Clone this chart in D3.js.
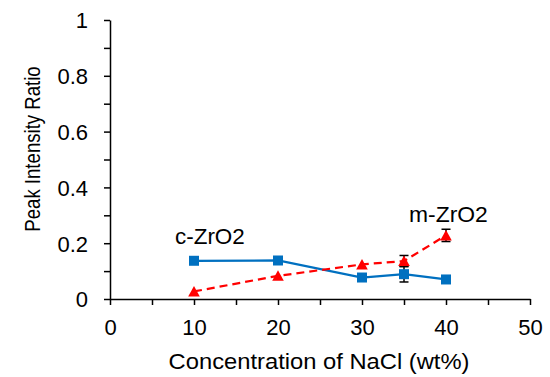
<!DOCTYPE html>
<html>
<head>
<meta charset="utf-8">
<script src="https://cdn.jsdelivr.net/npm/d3@7"></script>
<style>
  html, body { margin: 0; padding: 0; background: #fff; }
  svg { display: block; }
  text { font-family: "Liberation Sans", Arial, sans-serif; fill: #000; }
</style>
</head>
<body>
<svg id="chart" width="550" height="377"></svg>
<script>
// ---- data ----
const concentrations = [10, 20, 30, 35, 40];
const cZrO2 = [0.137, 0.138, 0.077, 0.089, 0.070];
const cZrO2Err = [0, 0, 0, 0.028, 0];
const mZrO2 = [0.027, 0.083, 0.124, 0.136, 0.228];
const mZrO2Err = [0, 0, 0, 0.02, 0.022];
const xTicks = [0, 10, 20, 30, 40, 50];
const yTicks = [0, 0.2, 0.4, 0.6, 0.8, 1];
const xTitle = "Concentration of NaCl (wt%)";
const yTitle = "Peak Intensity Ratio";
const seriesLabels = ["c-ZrO2", "m-ZrO2"];

// ---- layout ----
const FS = 22;
const svg = d3.select("#chart");
const x = d3.scaleLinear().domain([0, 50]).range([110, 530]);
const y = d3.scaleLinear().domain([0, 1]).range([299, 20]);

// axes
const fmtX = d => (xTicks.includes(d) ? d3.format("d")(d) : "");
const fmtY = d => (yTicks.some(t => Math.abs(t - d) < 1e-9) ? d3.format("")(+d.toFixed(1)) : "");

const xAxis = svg.append("g").attr("transform", `translate(0,${y(0)})`)
  .call(d3.axisBottom(x).tickValues(d3.range(0, 50.001, 5)).tickFormat(fmtX).tickSize(6).tickSizeOuter(0));
const yAxis = svg.append("g").attr("transform", `translate(${x(0)},0)`)
  .call(d3.axisLeft(y).tickValues(d3.range(0, 1.0001, 0.1)).tickFormat(fmtY).tickSize(6).tickSizeOuter(0));

[xAxis, yAxis].forEach(a => {
  a.select(".domain").attr("stroke", "#000").attr("stroke-width", 1.5);
  a.selectAll(".tick line").attr("stroke", "#000").attr("stroke-width", 1.5);
  a.selectAll(".tick text").attr("font-size", FS).attr("font-family", "Liberation Sans, Arial, sans-serif").attr("fill", "#000");
});
xAxis.selectAll(".tick text").attr("y", 36).attr("dy", 0);
yAxis.selectAll(".tick text").attr("x", -22).attr("dy", "0.36em");

// axis titles
svg.append("text")
  .attr("transform", `translate(319,369) scale(1.08,1)`)
  .attr("text-anchor", "middle").attr("font-size", FS).text(xTitle);
svg.append("text")
  .attr("transform", `translate(40,149) scale(1.15,1) rotate(-90)`)
  .attr("text-anchor", "middle").attr("font-size", 18.6).text(yTitle);

// series
const series = [
  { vals: cZrO2, err: cZrO2Err, color: "#0070C0", dash: null, shape: "square" },
  { vals: mZrO2, err: mZrO2Err, color: "#FF0000", dash: "8,5", shape: "triangle" }
];
const line = d3.line().x(d => x(d[0])).y(d => y(d[1]));

series.forEach(s => {
  const pts = concentrations.map((c, i) => [c, s.vals[i], s.err[i]]);
  svg.append("path").datum(pts)
    .attr("d", line).attr("fill", "none")
    .attr("stroke", s.color).attr("stroke-width", 2.25)
    .attr("stroke-dasharray", s.dash);
});

// error bars
series.forEach(s => {
  const pts = concentrations.map((c, i) => [c, s.vals[i], s.err[i]]).filter(p => p[2] > 0);
  const g = svg.append("g").attr("stroke", "#000").attr("stroke-width", 1.5);
  pts.forEach(p => {
    const cx = x(p[0]);
    g.append("line").attr("x1", cx).attr("x2", cx).attr("y1", y(p[1] - p[2])).attr("y2", y(p[1] + p[2]));
    [p[1] - p[2], p[1] + p[2]].forEach(v => {
      g.append("line").attr("x1", cx - 4.5).attr("x2", cx + 4.5).attr("y1", y(v)).attr("y2", y(v));
    });
  });
});

// markers
series.forEach(s => {
  const pts = concentrations.map((c, i) => [c, s.vals[i]]);
  const g = svg.append("g");
  if (s.shape === "square") {
    g.selectAll("rect").data(pts).join("rect")
      .attr("x", d => x(d[0]) - 5).attr("y", d => y(d[1]) - 5)
      .attr("width", 10).attr("height", 10).attr("fill", s.color);
  } else {
    g.selectAll("path").data(pts).join("path")
      .attr("transform", d => `translate(${x(d[0])},${y(d[1])})`)
      .attr("d", "M0,-5.5L5.8,5L-5.8,5Z").attr("fill", s.color);
  }
});

// series labels
svg.append("text").attr("transform", `translate(175,244) scale(1.02,1)`)
  .attr("font-size", FS).text(seriesLabels[0]);
svg.append("text").attr("transform", `translate(409,222) scale(1.04,1)`)
  .attr("font-size", FS).text(seriesLabels[1]);
</script>
</body>
</html>
